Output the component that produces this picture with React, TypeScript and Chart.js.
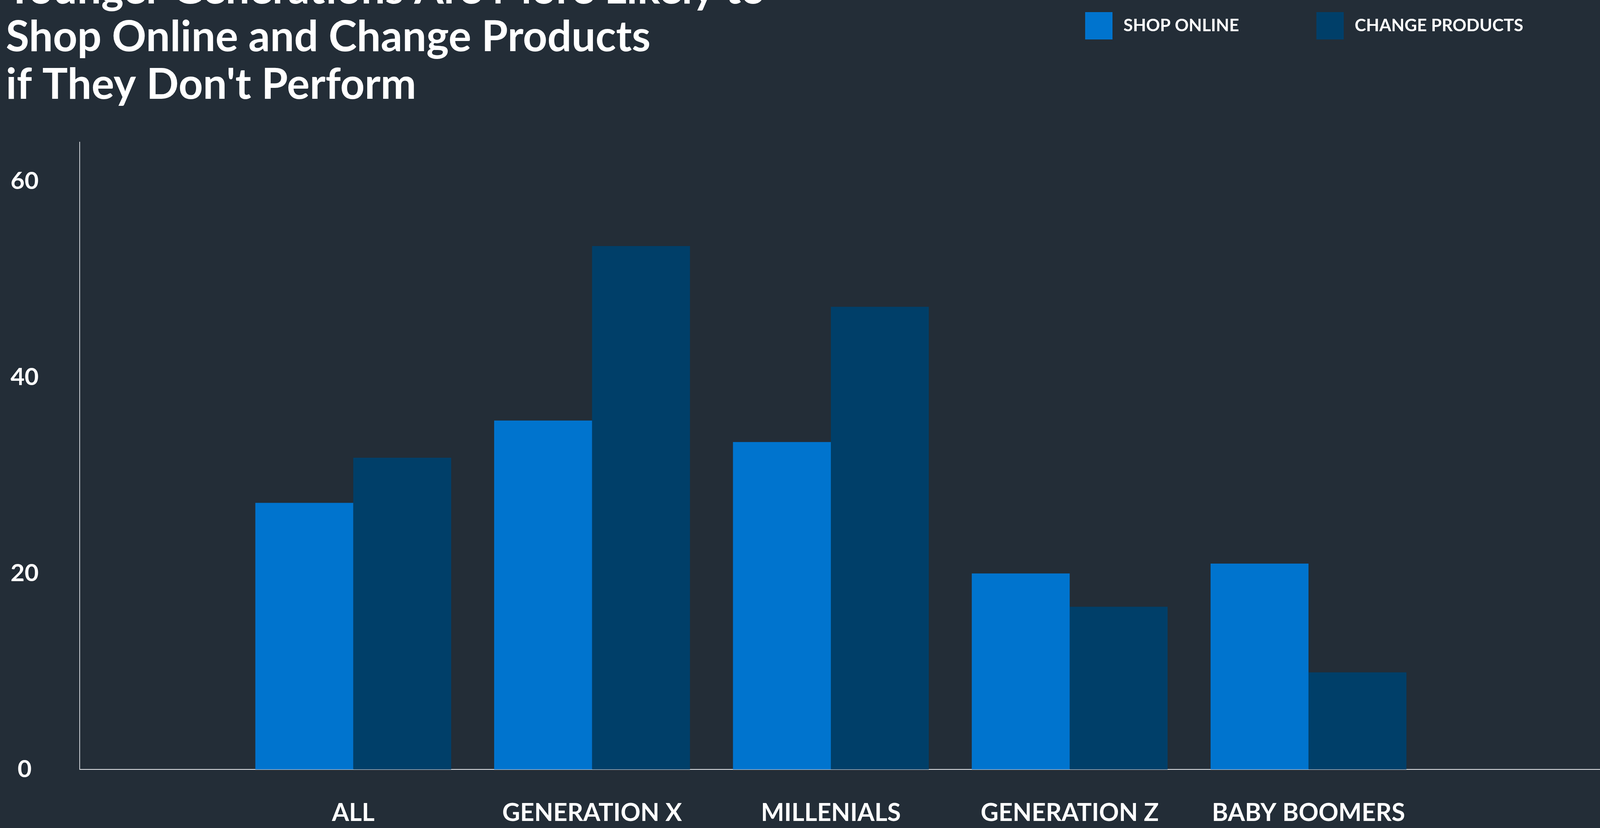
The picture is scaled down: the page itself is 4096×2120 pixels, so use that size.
import React, { useEffect, useRef } from "react";
import { Chart, registerables } from "chart.js";

Chart.register(...registerables);

const categories = ["ALL", "GENERATION X", "MILLENIALS", "GENERATION Z", "BABY BOOMERS"];
const seriesNames = ["SHOP ONLINE", "CHANGE PRODUCTS"];
const shopOnline = [27.2, 35.6, 33.4, 20.0, 21.0];
const changeProducts = [31.8, 53.4, 47.2, 16.6, 9.9];
const yTicks = [0, 20, 40, 60];
const titleLines = [
  "Younger Generations Are More Likely to",
  "Shop Online and Change Products",
  "if They Don't Perform",
];

const BG = "#232d37";
const C_SHOP = "#0074ce";
const C_CHANGE = "#003f69";
const FONT = "Lato, 'Open Sans', sans-serif";

const W = 4096;
const H = 2120;

const overlayPlugin = {
  id: "overlay",
  beforeDraw(chart: any) {
    const ctx = chart.ctx;
    ctx.save();
    ctx.fillStyle = BG;
    ctx.fillRect(0, 0, chart.width, chart.height);
    ctx.restore();
  },
  afterDraw(chart: any) {
    const ctx = chart.ctx;
    ctx.save();
    // title
    ctx.fillStyle = "#ffffff";
    ctx.textAlign = "left";
    ctx.textBaseline = "alphabetic";
    ctx.font = `700 109px ${FONT}`;
    titleLines.forEach((t, i) => ctx.fillText(t, 15, 9 + i * 122));
    // legend
    const legendX = [2778, 3370];
    chart.data.datasets.forEach((ds: any, i: number) => {
      const x = legendX[i];
      ctx.fillStyle = ds.backgroundColor;
      ctx.fillRect(x, 31, 70, 70);
      ctx.fillStyle = "#ffffff";
      ctx.font = `700 44px ${FONT}`;
      ctx.fillText(ds.label, x + 98, 80);
    });
    ctx.restore();
  },
};

export default function App() {
  const ref = useRef<HTMLCanvasElement | null>(null);

  useEffect(() => {
    if (!ref.current) return;
    const chart = new Chart(ref.current, {
      type: "bar",
      data: {
        datasets: [
          {
            label: seriesNames[0],
            data: shopOnline.map((y, i) => ({ x: i, y })),
            backgroundColor: C_SHOP,
            borderWidth: 0,
            categoryPercentage: 0.82,
            barPercentage: 1.0,
          },
          {
            label: seriesNames[1],
            data: changeProducts.map((y, i) => ({ x: i, y })),
            backgroundColor: C_CHANGE,
            borderWidth: 0,
            categoryPercentage: 0.82,
            barPercentage: 1.0,
          },
        ],
      } as any,
      options: {
        animation: false,
        responsive: false,
        maintainAspectRatio: false,
        layout: { padding: { top: 364, left: 0, right: 0, bottom: 0 } },
        plugins: {
          legend: { display: false },
          title: { display: false },
          tooltip: { enabled: false },
        },
        scales: {
          x: {
            type: "linear",
            bounds: "data",
            offset: false,
            min: -1.1455,
            max: 5.2206,
            grid: { display: false, drawTicks: false, offset: false },
            border: { display: true, color: "#e9ebee", width: 2 },
            afterBuildTicks: (s: any) => {
              s.ticks = categories.map((_, i) => ({ value: i }));
            },
            afterFit: (s: any) => {
              s.height = 150;
            },
            ticks: {
              autoSkip: false,
              maxRotation: 0,
              minRotation: 0,
              padding: 74,
              color: "#ffffff",
              font: { family: FONT, weight: "bold", size: 63 },
              callback: (v: any) => categories[Math.round(Number(v))] ?? "",
            },
          },
          y: {
            type: "linear",
            min: 0,
            max: 64,
            grid: { display: false, drawTicks: false },
            border: { display: true, color: "#cfd3d8", width: 2 },
            afterBuildTicks: (s: any) => {
              s.ticks = yTicks.map((v) => ({ value: v }));
            },
            afterFit: (s: any) => {
              s.width = 204;
            },
            ticks: {
              crossAlign: "center",
              padding: 105,
              color: "#ffffff",
              font: { family: FONT, weight: "bold", size: 62 },
            },
          },
        },
      } as any,
      plugins: [overlayPlugin],
    });
    return () => chart.destroy();
  }, []);

  return (
    <div
      style={{
        position: "fixed",
        left: 0,
        top: 0,
        width: W,
        height: H,
        background: BG,
        overflow: "hidden",
      }}
    >
      <canvas ref={ref} width={W} height={H} style={{ display: "block", width: W, height: H }} />
    </div>
  );
}
